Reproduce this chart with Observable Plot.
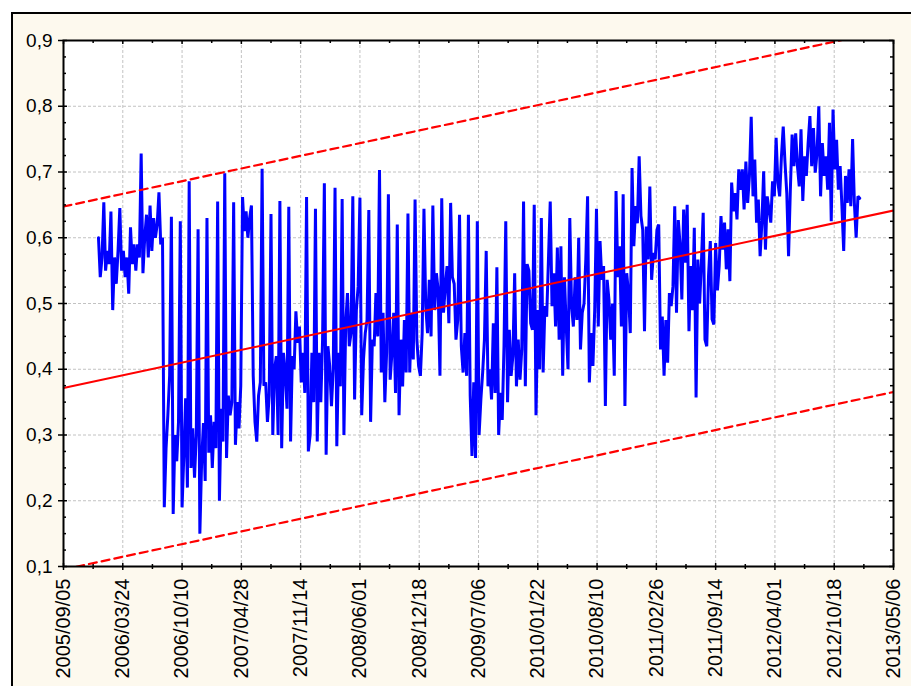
<!DOCTYPE html>
<html><head><meta charset="utf-8">
<script src="https://cdn.jsdelivr.net/npm/d3@7"></script>
<script src="https://cdn.jsdelivr.net/npm/@observablehq/plot@0.6"></script>
<style>
html,body{margin:0;padding:0;background:#fff;overflow:hidden;width:911px;height:686px;}
#panel{position:absolute;left:11px;top:12px;width:1000px;height:800px;background:#fdf9ee;border-left:2px solid #000;border-top:2px solid #000;}
#chart{position:absolute;left:0;top:0;}
</style></head><body>
<div id="panel"></div><div id="chart"></div>
<script>
// ---- data ----
const xTickLabels = ["2005/09/05","2006/03/24","2006/10/10","2007/04/28","2007/11/14","2008/06/01","2008/12/18","2009/07/06","2010/01/22","2010/08/10","2011/02/26","2011/09/14","2012/04/01","2012/10/18","2013/05/06"];
const yTickValues = [0.1,0.2,0.3,0.4,0.5,0.6,0.7,0.8,0.9];
const seriesStart = "2006/01/01";
const stepDays = 6;
const seg2006a = [0.60,0.54,0.57,0.654,0.55,0.58,0.56,0.64,0.49,0.57,
0.53,0.58,0.645,0.55,0.58,0.54,0.57,0.515,0.616,0.56,
0.59,0.55,0.59,0.57,0.728,0.546,0.60,0.635,0.57,0.649,
0.58,0.63,0.60,0.62,0.669,0.59,0.60];
const seg2006b = [0.19,0.28,0.33,0.39,0.632,0.18,0.30,0.26,0.32,0.625,
0.19,0.27,0.356,0.22,0.686,0.25,0.31,0.235,0.30,0.613,
0.15,0.26,0.318,0.23,0.63,0.273,0.33,0.25,0.32,0.28,
0.655,0.20,0.34,0.29,0.698,0.265,0.36,0.33,0.35,0.654,
0.285,0.35,0.31,0.375,0.662,0.61,0.64,0.60,0.63,0.649,
0.39,0.32,0.29,0.36,0.38,0.705,0.375,0.38,0.32,0.36,
0.636,0.30,0.40,0.42,0.30,0.656,0.28,0.425,0.395,0.34,
0.647,0.29];
const seg2008 = [0.42,0.40,0.488,0.44,0.465,0.38,0.425,0.364,0.662,0.275,
0.30,0.425,0.35,0.644,0.29,0.425,0.35,0.445,0.683,0.27,
0.435,0.405,0.344,0.40,0.676,0.283,0.425,0.374,0.659,0.30,
0.47,0.516,0.435,0.455,0.663,0.354,0.49,0.526,0.661,0.33,
0.415,0.455,0.475,0.642,0.32,0.445,0.435,0.516,0.45,0.703,
0.395,0.486,0.35,0.425,0.666,0.384,0.425,0.486,0.364,0.62,
0.33,0.445,0.374,0.475,0.395,0.637,0.395,0.486,0.415,0.658,
0.445,0.405,0.39,0.455,0.644,0.496,0.455,0.536,0.45,0.649,
0.49,0.546,0.52,0.39,0.66,0.486,0.526,0.557,0.47,0.653,
0.54,0.53,0.445,0.475,0.635,0.435,0.395,0.455,0.39,0.635,
0.36,0.268,0.38,0.265,0.625,0.30,0.354];
const seg2010 = [0.395,0.445,0.58,0.374,0.40,0.354,0.47,0.364,0.555,0.30,
0.364,0.323,0.435,0.625,0.35,0.46,0.39,0.42,0.546,0.374,
0.445,0.384,0.43,0.655,0.374,0.56,0.55,0.47,0.46,0.65,
0.33,0.49,0.40,0.63,0.395,0.496,0.48,0.567,0.655,0.496,
0.546,0.465,0.585,0.445,0.587,0.39,0.54,0.465,0.40,0.63,
0.496,0.465,0.54,0.475,0.60,0.43,0.486,0.50,0.567,0.663,
0.38,0.455,0.405,0.49,0.644,0.465,0.595,0.536,0.557,0.344,
0.536,0.506,0.445,0.50,0.39,0.671,0.54,0.587,0.465,0.666,
0.344,0.546,0.516,0.455,0.706,0.587,0.648,0.622,0.724,0.633,
0.612,0.458,0.617,0.567,0.678,0.536,0.577,0.567,0.612,0.62,
0.43,0.48,0.39,0.475,0.41,0.516,0.496,0.526,0.648,0.486,0.627];
const seg2012 = [0.59,0.506,0.643,0.562,0.65,0.458,0.557,0.49,0.615,0.357,
0.567,0.50,0.562,0.638,0.445,0.435,0.542,0.595,0.476,0.468,
0.592,0.52,0.557,0.633,0.582,0.623,0.552,0.613,0.534,0.684,
0.64,0.668,0.628,0.704,0.673,0.704,0.643,0.716,0.653,0.694,
0.784,0.663,0.719,0.623,0.658,0.572,0.623,0.701,0.582,0.663,
0.643,0.623,0.686,0.663,0.752,0.684,0.663,0.724,0.769,0.714,
0.668,0.572,0.673,0.757,0.709,0.759,0.709,0.678,0.765,0.656,
0.724,0.694,0.744,0.785,0.709,0.767,0.699,0.729,0.80,0.663,
0.744,0.694,0.724,0.673,0.775,0.625,0.795,0.704,0.749,0.673,
0.709,0.648,0.58,0.694,0.653,0.704,0.648,0.75,0.653,0.60,0.663,0.66];
// regression line and prediction band, read at the two ends of the x axis
const fitDates = ["2005/09/05","2013/05/06"];
const fitLine  = [0.3715, 0.6414];
const fitUpper = [0.6475, 0.9174];
const fitLower = [0.0955, 0.3654];

// ---- build ----
const parse = d3.utcParse("%Y/%m/%d");
const xTicks = xTickLabels.map(parse);
const start = parse(seriesStart);
const values = [...seg2006a, ...seg2006b, ...seg2008, ...seg2010, ...seg2012];
const series = values.map((v, i) => ({date: d3.utcDay.offset(start, i * stepDays), value: v}));
const fit = fitDates.map((d, i) => ({date: parse(d), fit: fitLine[i], upper: fitUpper[i], lower: fitLower[i]}));
const xMinor = xTicks.slice(0, -1).map(d => d3.utcDay.offset(d, 100));
const yMinor = d3.range(0.125, 0.9, 0.025).filter(v => Math.abs(v * 10 - Math.round(v * 10)) > 0.01);

const W = 911, H = 686, mL = 63, mT = 40, mR = 18, mB = 120;
const iw = W - mL - mR, ih = H - mT - mB;
const gridStyle = {stroke: "#c2c2c2", strokeOpacity: 1, strokeWidth: 1, strokeDasharray: "3,2"};

const chart = Plot.plot({
  width: W, height: H,
  marginLeft: mL, marginTop: mT, marginRight: mR, marginBottom: mB,
  style: {background: "transparent", fontFamily: "'Liberation Sans', Arial, sans-serif", color: "#000"},
  x: {type: "utc", domain: [xTicks[0], xTicks[xTicks.length - 1]]},
  y: {domain: [0.1, 0.9]},
  marks: [
    Plot.frame({fill: "white", stroke: "none"}),
    Plot.gridX(xTicks, gridStyle),
    Plot.gridY(yTickValues, gridStyle),
    Plot.line(series, {x: "date", y: "value", stroke: "#0000ff", strokeWidth: 3, strokeLinejoin: "miter", strokeMiterlimit: 2, clip: true}),
    Plot.line(fit, {x: "date", y: "fit", stroke: "#ff0000", strokeWidth: 2, clip: true}),
    Plot.line(fit, {x: "date", y: "upper", stroke: "#ff0000", strokeWidth: 2.2, strokeDasharray: "8,5", clip: true}),
    Plot.line(fit, {x: "date", y: "lower", stroke: "#ff0000", strokeWidth: 2.2, strokeDasharray: "8,5", clip: true}),
    Plot.frame({stroke: "#000", strokeWidth: 2}),
    // left ticks
    Plot.tickY(yTickValues, {y: d => d, insetLeft: -5, insetRight: iw - 4, stroke: "#000", strokeWidth: 1.5}),
    Plot.tickY(yMinor, {y: d => d, insetLeft: 0, insetRight: iw - 3, stroke: "#000", strokeWidth: 1.5}),
    // right ticks
    Plot.tickY(yTickValues, {y: d => d, insetLeft: iw - 4, insetRight: 0, stroke: "#000", strokeWidth: 1.5}),
    Plot.tickY(yMinor, {y: d => d, insetLeft: iw - 3, insetRight: 0, stroke: "#000", strokeWidth: 1.5}),
    // bottom ticks
    Plot.tickX(xTicks, {x: d => d, insetTop: ih - 3, insetBottom: -4, stroke: "#000", strokeWidth: 1.5}),
    Plot.tickX(xMinor, {x: d => d, insetTop: ih - 2, insetBottom: -3, stroke: "#000", strokeWidth: 1.5}),
    // top ticks
    Plot.tickX(xTicks, {x: d => d, insetTop: 0, insetBottom: ih - 4, stroke: "#000", strokeWidth: 1.5}),
    Plot.tickX(xMinor, {x: d => d, insetTop: 0, insetBottom: ih - 3, stroke: "#000", strokeWidth: 1.5}),
    Plot.axisY(yTickValues, {tickSize: 0, tickPadding: 11, label: null, fontSize: 19,
      tickFormat: d => d.toFixed(1).replace(".", ",")}),
    Plot.axisX(xTicks, {tickSize: 0, tickPadding: 12, label: null, fontSize: 20, tickRotate: -90,
      tickFormat: d3.utcFormat("%Y/%m/%d")})
  ]
});
document.getElementById("chart").appendChild(chart);
</script></body></html>
